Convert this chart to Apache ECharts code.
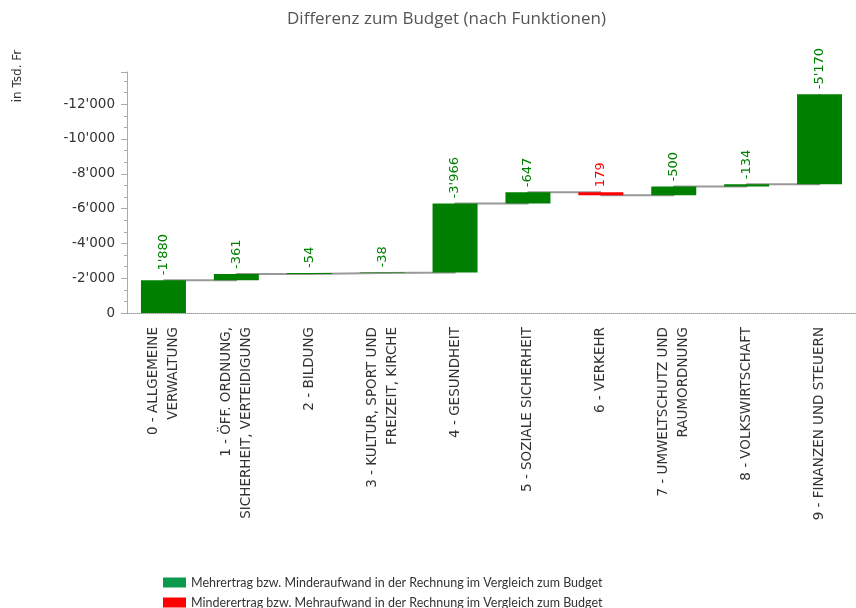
<!DOCTYPE html>
<html>
<head>
<meta charset="utf-8">
<script src="https://cdn.jsdelivr.net/npm/echarts@6/dist/echarts.min.js"></script>
<style>html,body{margin:0;padding:0;background:#fff}#chart{width:856px;height:608px}</style>
</head>
<body>
<div id="chart"></div>
<script>
var categories = [
    "0 - ALLGEMEINE\nVERWALTUNG",
    "1 - ÖFF. ORDNUNG,\nSICHERHEIT, VERTEIDIGUNG",
    "2 - BILDUNG",
    "3 - KULTUR, SPORT UND\nFREIZEIT, KIRCHE",
    "4 - GESUNDHEIT",
    "5 - SOZIALE SICHERHEIT",
    "6 - VERKEHR",
    "7 - UMWELTSCHUTZ UND\nRAUMORDNUNG",
    "8 - VOLKSWIRTSCHAFT",
    "9 - FINANZEN UND STEUERN"
];
// Differenz Rechnung - Budget in Tsd. Fr (negativ = besser)
var diff = [-1880, -361, -54, -38, -3966, -647, 179, -500, -134, -5170];
var legendNames = [
    "Mehrertrag bzw. Minderaufwand in der Rechnung im Vergleich zum Budget",
    "Minderertrag bzw. Mehraufwand in der Rechnung im Vergleich zum Budget"
];

// Wasserfall: Achse zeigt negative Werte nach oben
var cum = [], base = [], green = [], red = [];
var run = 0;
for (var i = 0; i < diff.length; i++) {
    var prev = run;
    run = run - diff[i];
    cum.push(run);
    base.push(Math.min(prev, run));
    green.push(diff[i] < 0 ? -diff[i] : '-');
    red.push(diff[i] > 0 ? diff[i] : '-');
}

function fmt(v) {
    var s = String(Math.abs(v)).replace(/\B(?=(\d{3})+(?!\d))/g, "'");
    return (v < 0 ? '-' : '') + s;
}

var labelFont = 'DejaVu Sans';
function barLabel(color) {
    return {
        show: true, position: 'top', rotate: 90, align: 'left', verticalAlign: 'middle',
        distance: 5, color: color, fontFamily: labelFont, fontSize: 13,
        formatter: function (p) { return fmt(diff[p.dataIndex]); }
    };
}

var myChart = echarts.init(document.getElementById('chart'));
var option = {
    animation: false,
    title: {
        text: 'Differenz zum Budget (nach Funktionen)',
        left: 282, top: 6,
        textStyle: {fontFamily: 'Open Sans', fontSize: 17, fontWeight: 'normal', color: '#555'}
    },
    graphic: [{
        type: 'text', x: 18, y: 76, rotation: Math.PI / 2,
        style: {text: 'in Tsd. Fr', fill: '#333', font: '12px DejaVu Sans',
            textAlign: 'center', textVerticalAlign: 'middle', align: 'center', verticalAlign: 'middle'}
    }],
    legend: {
        orient: 'vertical', left: 163, top: 575, height: 40, itemWidth: 23, itemHeight: 10, itemGap: 5,
        padding: 0, icon: 'rect',
        textStyle: {fontFamily: 'Lato', fontSize: 12.5, lineHeight: 15, color: '#333'},
        data: [
            {name: legendNames[0], itemStyle: {color: '#0b9a4c'}},
            {name: legendNames[1], itemStyle: {color: '#ff0000'}}
        ]
    },
    grid: {left: 127, width: 734, top: 72, bottom: 295},
    xAxis: {
        type: 'category', data: categories,
        axisLine: {lineStyle: {color: '#999', type: [1, 1], width: 1}},
        axisTick: {alignWithLabel: true, length: 6, lineStyle: {color: '#999'}},
        axisLabel: {interval: 0, rotate: 90, margin: 14, fontFamily: labelFont, fontSize: 13.5,
            lineHeight: 20, color: '#333'}
    },
    yAxis: {
        type: 'value', min: 0, max: 13850, interval: 2000,
        axisLine: {show: true, lineStyle: {color: '#aaa'}},
        axisTick: {show: true, length: 6, lineStyle: {color: '#aaa'}},
        minorTick: {show: true, splitNumber: 3, length: 3, lineStyle: {color: '#aaa'}},
        splitLine: {show: false},
        axisLabel: {showMaxLabel: false, margin: 12, fontFamily: labelFont, fontSize: 13.5, color: '#333',
            formatter: function (v) { return v === 0 ? '0' : '-' + fmt(v); }}
    },
    series: [
        {
            name: 'verbindung', type: 'line', data: cum, step: 'end', symbol: 'none', z: 1,
            lineStyle: {color: '#999', width: 2}, silent: true
        },
        {
            name: 'basis', type: 'bar', stack: 'w', data: base, barWidth: 45, z: 2,
            itemStyle: {color: 'transparent'}, silent: true
        },
        {
            name: legendNames[0], type: 'bar', stack: 'w', data: green, barWidth: 45, z: 2,
            itemStyle: {color: '#008000'}, label: barLabel('#008000')
        },
        {
            name: legendNames[1], type: 'bar', stack: 'w', data: red, barWidth: 45, z: 2,
            itemStyle: {color: '#ff0000'}, label: barLabel('#ff0000')
        }
    ]
};
myChart.setOption(option);
window.addEventListener("resize", function () {
    myChart.resize();
});
</script>
</body>
</html>
